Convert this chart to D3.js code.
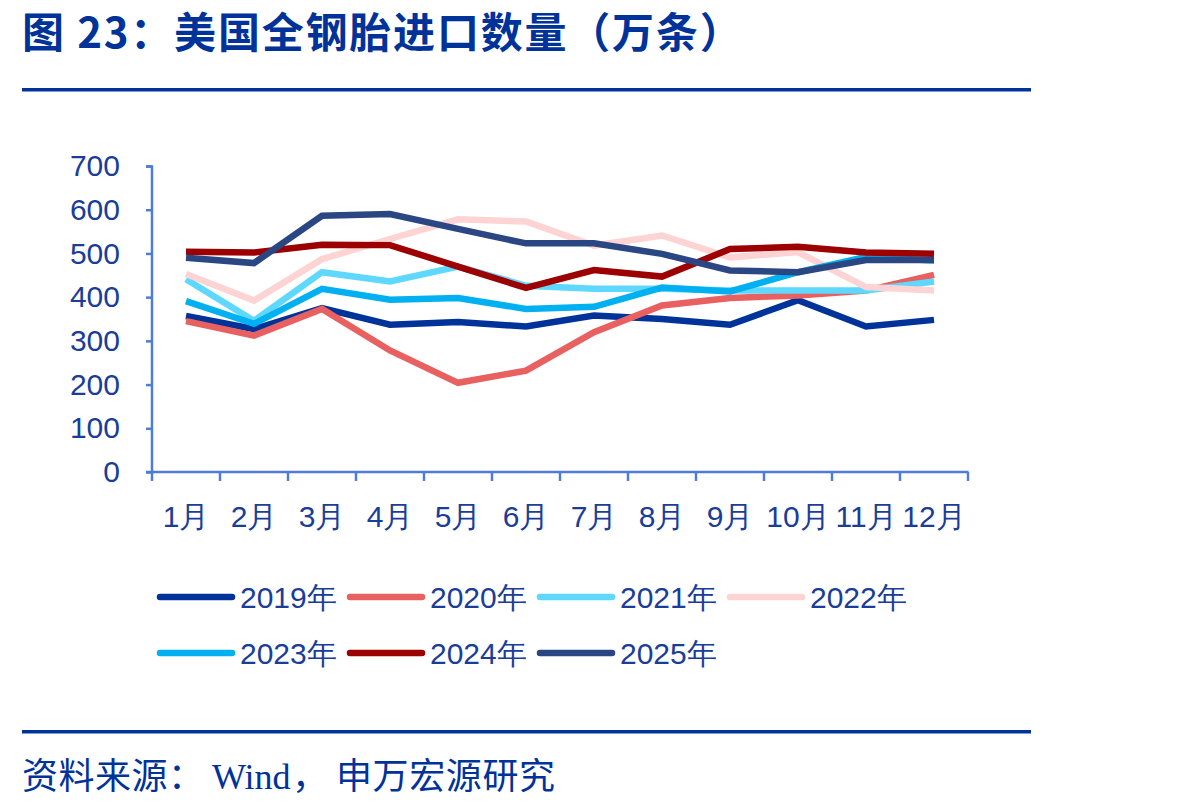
<!DOCTYPE html>
<html><head><meta charset="utf-8">
<script src="https://cdn.jsdelivr.net/npm/d3@7"></script>
<style>
html,body{margin:0;padding:0;background:#fff;}
svg{display:block;}
</style></head>
<body>
<svg id="chart" width="1201" height="807"></svg>
<script>
const titleText = "图 23：美国全钢胎进口数量（万条）";
const sourceParts = ["资料来源：","Wind","，","申万宏源研究"];
const months = ["1月","2月","3月","4月","5月","6月","7月","8月","9月","10月","11月","12月"];
const yTicks = [0,100,200,300,400,500,600,700];
const seriesNames = ["2019年","2020年","2021年","2022年","2023年","2024年","2025年"];
const seriesColors = ["#003399","#e8605f","#5fd8ff","#fdd3d3","#00b0f0","#9c0000","#2a4783"];
const v2019 = [357,327,375,337,343,333,358,350,337,393,333,348];
const v2020 = [345,312,373,278,204,232,320,381,398,404,415,451];
const v2021 = [441,346,457,436,470,426,419,419,415,415,415,436];
const v2022 = [453,392,487,533,578,573,518,541,491,503,423,415];
const v2023 = [391,339,419,394,398,373,378,422,413,457,492,484];
const v2024 = [504,502,520,519,470,421,462,447,510,515,502,499];
const v2025 = [490,478,586,590,556,523,523,499,461,457,485,485];
const seriesValues = [v2019,v2020,v2021,v2022,v2023,v2024,v2025];

const svg = d3.select("#chart");
const navy = "#003399";
const axisColor = "#4d7dd6";
const labelColor = "#1a3d98";
const latin = "'Liberation Sans', Arial, sans-serif";

// Title
svg.append("text").attr("x",22).attr("y",48)
  .attr("font-family","'Noto Sans CJK SC'").attr("font-weight","bold")
  .attr("font-size",42).attr("letter-spacing",1.8).attr("fill",navy).text(titleText);
svg.append("rect").attr("x",22).attr("y",88).attr("width",1009).attr("height",3.5).attr("fill",navy);
svg.append("rect").attr("x",22).attr("y",730).attr("width",1009).attr("height",3.5).attr("fill",navy);

// Source
const src = svg.append("text").attr("y",789)
  .attr("font-family","'Noto Sans CJK SC'").attr("font-size",36).attr("fill",navy);
src.append("tspan").attr("x",22).attr("letter-spacing",0.5).text(sourceParts[0]);
src.append("tspan").attr("x",212).attr("font-family","'Liberation Serif', serif").text(sourceParts[1]);
src.append("tspan").attr("x",292).text(sourceParts[2]);
src.append("tspan").attr("x",336).attr("letter-spacing",0.6).text(sourceParts[3]);

const x = d3.scaleBand().domain(months).range([152,968]).padding(0);
const y = d3.scaleLinear().domain([0,700]).range([472,166]);

// Y axis
const yAxis = svg.append("g").attr("transform","translate(152,0)")
  .call(d3.axisLeft(y).tickValues(yTicks).tickSize(6).tickPadding(26).tickFormat(d3.format("d")));
yAxis.select(".domain").attr("stroke",axisColor).attr("stroke-width",2.5).attr("d","M-6,166.5H0V472");
yAxis.selectAll(".tick line").attr("stroke",axisColor).attr("stroke-width",2.5);
yAxis.selectAll(".tick text").attr("fill",labelColor).attr("font-family",latin).attr("font-size",30);

// X axis (labels)
const xAxis = svg.append("g").attr("transform","translate(0,472)")
  .call(d3.axisBottom(x).tickSize(0).tickPadding(34));
xAxis.select(".domain").attr("stroke",axisColor).attr("stroke-width",2.5).attr("d","M146,0H968.5");
xAxis.selectAll(".tick text").attr("fill",labelColor).attr("font-family",latin).attr("font-size",30);
// boundary ticks
const bounds = months.map(m => x(m)).concat([x.range()[1]]);
svg.append("g").selectAll("line").data(bounds).join("line")
  .attr("x1",d=>d).attr("x2",d=>d).attr("y1",472).attr("y2",481)
  .attr("stroke",axisColor).attr("stroke-width",2.5);

// Lines
const line = d3.line().x((d,i)=>x(months[i])+x.bandwidth()/2).y(d=>y(d));
svg.append("g").selectAll("path").data(seriesValues).join("path")
  .attr("d",d=>line(d)).attr("fill","none")
  .attr("stroke",(d,i)=>seriesColors[i]).attr("stroke-width",6.5)
  .attr("stroke-linejoin","miter").attr("stroke-linecap","butt");

// Legend
const leg = svg.append("g");
seriesNames.forEach((name,i)=>{
  const col = i % 4, row = Math.floor(i/4);
  const lx = 157 + col*190, ly = 597 + row*56;
  leg.append("line").attr("x1",lx+3).attr("x2",lx+75).attr("y1",ly).attr("y2",ly)
    .attr("stroke",seriesColors[i]).attr("stroke-width",6.5).attr("stroke-linecap","round");
  leg.append("text").attr("x",lx+83).attr("y",ly+11)
    .attr("font-family",latin).attr("font-size",30)
    .attr("fill",labelColor).text(name);
});
</script>
</body></html>
